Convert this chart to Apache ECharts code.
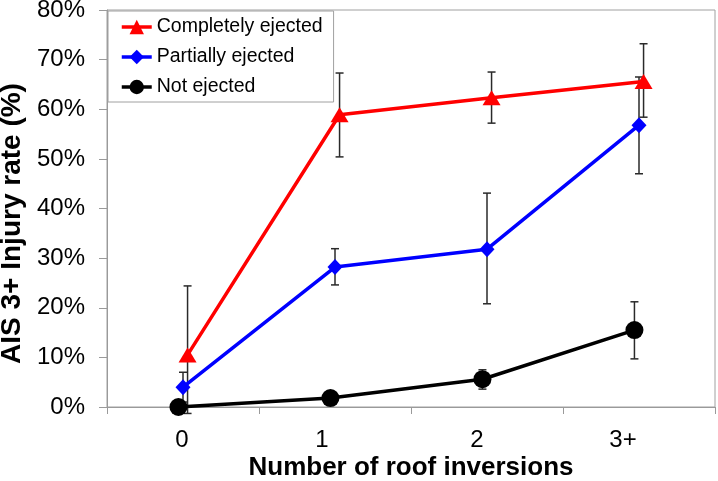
<!DOCTYPE html>
<html>
<head>
<meta charset="utf-8">
<script src="https://cdn.jsdelivr.net/npm/echarts@6/dist/echarts.min.js"></script>
<style>
  html, body { margin: 0; padding: 0; background: #fff; }
  #chart { width: 718px; height: 481px; }
</style>
</head>
<body>
<div id="chart"></div>
<script>
// categories on the x axis
const categories = ['0', '1', '2', '3+'];

// AIS 3+ injury rate (%) per roof inversion count
const completeRate = [10.5, 58.9, 62.3, 65.6];
const completeLow  = [-1.3, 50.4, 57.2, 58.4];
const completeHigh = [24.4, 67.3, 67.5, 73.2];

const partialRate = [4.0, 28.2, 31.8, 56.8];
const partialLow  = [1.0, 24.6, 20.8, 47.0];
const partialHigh = [7.0, 31.9, 43.1, 66.5];

const notRate = [0.0, 1.8, 5.6, 15.5];
const notLow  = [0.0, 0.8, 3.6, 9.7];
const notHigh = [0.6, 2.8, 7.5, 21.2];

const yTicks = [0, 10, 20, 30, 40, 50, 60, 70, 80];

// small sideways nudge so the error bars don't overlap
const NUDGE = { complete: 0.03, partial: 0, not: -0.03 };
// the category labels sit a bit left of the centres in the original
const labelShift = [1, 13, 10, 16];

const FONT = 'Liberation Sans, Arial, sans-serif';
const AXIS_GREY = '#9a9a9a';
const LINE_W = 3.5;

const chart = echarts.init(document.getElementById('chart'));

function points(rate, off) {
  return rate.map((v, i) => [i + off, v]);
}

function errorBars(low, high, off) {
  return {
    type: 'custom',
    xAxisIndex: 0,
    z: 1,
    silent: true,
    encode: { x: 0, y: [1, 2] },
    data: low.map((l, i) => [i + off, l, high[i]]),
    renderItem(params, api) {
      const x = api.value(0);
      const lo = api.coord([x, api.value(1)]);
      const hi = api.coord([x, api.value(2)]);
      const cap = 4;
      const style = { stroke: '#2a2a2a', lineWidth: 1.5 };
      return {
        type: 'group',
        children: [
          { type: 'line', shape: { x1: lo[0], y1: lo[1], x2: hi[0], y2: hi[1] }, style },
          { type: 'line', shape: { x1: lo[0] - cap, y1: lo[1], x2: lo[0] + cap, y2: lo[1] }, style },
          { type: 'line', shape: { x1: hi[0] - cap, y1: hi[1], x2: hi[0] + cap, y2: hi[1] }, style }
        ]
      };
    }
  };
}

const rich = {};
labelShift.forEach((s, i) => {
  rich['c' + i] = { fontSize: 24, fontFamily: FONT, color: '#000', padding: [0, s * 2, 0, 0] };
});

chart.setOption({
  animation: false,
  textStyle: { fontFamily: FONT },
  grid: {
    left: 107, right: 3, top: 10, bottom: 74,
    outerBoundsMode: 'none',
    containLabel: false,
    show: true, borderColor: '#a0a0a0', borderWidth: 1, backgroundColor: 'transparent'
  },
  legend: {
    orient: 'vertical',
    left: 108, top: 11,
    padding: [6, 11, 5, 12],
    itemGap: 10,
    itemWidth: 30,
    itemHeight: 18,
    backgroundColor: '#fff',
    borderColor: '#a0a0a0',
    borderWidth: 1,
    z: 10,
    lineStyle: { width: LINE_W },
    textStyle: { fontSize: 19.5, lineHeight: 20, color: '#000', fontFamily: FONT },
    data: ['Completely ejected', 'Partially ejected', 'Not ejected']
  },
  xAxis: [
    {
      type: 'value',
      min: -0.5, max: 3.5, interval: 1,
      name: 'Number of roof inversions',
      nameLocation: 'middle',
      nameGap: 48,
      nameTextStyle: { fontSize: 26, fontWeight: 'bold', color: '#000', fontFamily: FONT },
      axisLine: { onZero: false, lineStyle: { color: AXIS_GREY, width: 1 } },
      axisTick: { show: true, inside: false, length: 7, lineStyle: { color: AXIS_GREY } },
      axisLabel: { show: false },
      splitLine: { show: false }
    },
    {
      type: 'category',
      position: 'bottom',
      data: categories,
      boundaryGap: true,
      axisLine: { show: false, onZero: false },
      axisTick: { show: false },
      splitLine: { show: false },
      axisLabel: {
        margin: 21,
        formatter: (v, i) => '{c' + i + '|' + v + '}',
        rich
      }
    }
  ],
  yAxis: {
    type: 'value',
    min: yTicks[0], max: yTicks[yTicks.length - 1], interval: 10,
    name: 'AIS 3+ Injury rate (%)',
    nameLocation: 'middle',
    nameGap: 81,
    nameTextStyle: { fontSize: 28, fontWeight: 'bold', color: '#000', fontFamily: FONT, padding: [0, 30, 0, 0] },
    axisLine: { show: true, onZero: false, lineStyle: { color: AXIS_GREY, width: 1 } },
    axisTick: { show: true, inside: false, length: 8, lineStyle: { color: AXIS_GREY } },
    axisLabel: { margin: 22, fontSize: 24, color: '#000', fontFamily: FONT, formatter: '{value}%' },
    splitLine: { show: false }
  },
  series: [
    errorBars(completeLow, completeHigh, NUDGE.complete),
    errorBars(partialLow, partialHigh, NUDGE.partial),
    errorBars(notLow, notHigh, NUDGE.not),
    {
      name: 'Completely ejected',
      type: 'line',
      xAxisIndex: 0,
      z: 3,
      data: points(completeRate, NUDGE.complete),
      symbol: 'triangle',
      symbolSize: [18, 15],
      color: '#ff0000',
      lineStyle: { width: LINE_W, color: '#ff0000' },
      itemStyle: { color: '#ff0000' }
    },
    {
      name: 'Partially ejected',
      type: 'line',
      xAxisIndex: 0,
      z: 4,
      data: points(partialRate, NUDGE.partial),
      symbol: 'diamond',
      symbolSize: [15, 16],
      color: '#0000ff',
      lineStyle: { width: LINE_W, color: '#0000ff' },
      itemStyle: { color: '#0000ff' }
    },
    {
      name: 'Not ejected',
      type: 'line',
      xAxisIndex: 0,
      z: 5,
      data: points(notRate, NUDGE.not),
      symbol: 'circle',
      symbolSize: 18,
      color: '#000000',
      lineStyle: { width: LINE_W, color: '#000000' },
      itemStyle: { color: '#000000' }
    }
  ]
});
</script>
</body>
</html>
